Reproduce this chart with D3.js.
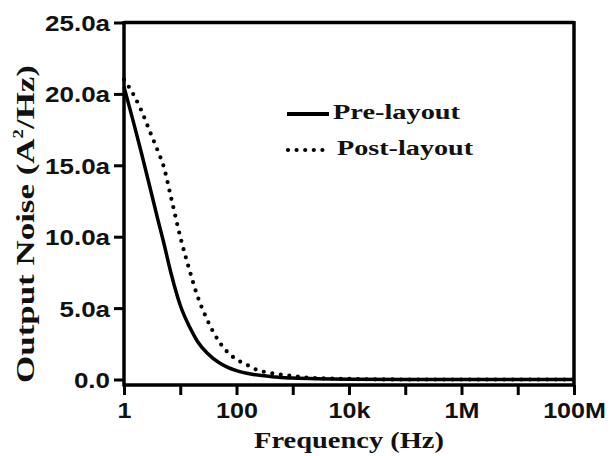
<!DOCTYPE html>
<html>
<head>
<meta charset="utf-8">
<script src="https://cdn.jsdelivr.net/npm/d3@7"></script>
<style>
  body { margin: 0; background: #fff; }
  .tick text { font-family: "Liberation Sans", Arial, sans-serif; font-weight: bold; font-size: 22px; fill: #111; }
  .title { font-family: "Liberation Serif", "Times New Roman", serif; font-weight: bold; fill: #111; }
</style>
</head>
<body>
<div id="chart"></div>
<script>
// Data (noise in aA^2/Hz)
const freqPre = [1, 1.5, 2, 3, 4, 5, 7, 10, 15, 20, 30, 50, 70, 100, 200, 500, 1000, 1e4, 1e5, 1e6, 1e7, 1e8];
const noisePre = [20.5, 17.9, 16.0, 13.2, 11.2, 9.7, 7.3, 5.2, 3.6, 2.7, 1.85, 1.15, 0.85, 0.62, 0.35, 0.18, 0.1, 0.02, 0, 0, 0, 0];
const freqPost = [1, 1.5, 2, 3, 4, 5, 7, 10, 15, 20, 30, 50, 70, 100, 150, 200, 300, 500, 1000, 2000, 1e4, 1e5, 1e6, 1e7, 1e8];
const noisePost = [21.0, 19.9, 18.9, 17.2, 16.0, 15.0, 12.6, 10.0, 7.5, 5.9, 4.2, 2.6, 1.9, 1.4, 1.05, 0.78, 0.55, 0.4, 0.25, 0.12, 0.04, 0, 0, 0, 0];
const seriesNames = ["Pre-layout", "Post-layout"];

const xTicks = [1, 10, 100, 1e3, 1e4, 1e5, 1e6, 1e7, 1e8];
const xTickLabels = ["1", "", "100", "", "10k", "", "1M", "", "100M"];
const yTicks = [0, 5, 10, 15, 20, 25];
const yTickLabels = ["0.0", "5.0a", "10.0a", "15.0a", "20.0a", "25.0a"];

// Dimensions
const W = 611, H = 456;
const plotLeft = 124, plotRight = 574, plotTop = 22.5, zeroY = 379.5, axisY = 385;

const svg = d3.select("#chart").append("svg")
    .attr("width", W)
    .attr("height", H);

const x = d3.scaleLog().domain([1, 1e8]).range([plotLeft, plotRight]);
const y = d3.scaleLinear().domain([0, 25]).range([zeroY, plotTop]);

// X axis
const gx = svg.append("g")
    .attr("transform", `translate(0,${axisY})`)
    .call(d3.axisBottom(x).tickValues(xTicks).tickFormat((d, i) => xTickLabels[i]).tickSize(10).tickSizeOuter(0));
gx.select(".domain").remove();
gx.selectAll(".tick line").attr("stroke", "#000").attr("stroke-width", 3);
gx.selectAll(".tick text")
    .attr("y", 0).attr("dy", 0)
    .attr("transform", "translate(0,33) scale(1.14,1)");

// Y axis
const gy = svg.append("g")
    .attr("transform", `translate(${plotLeft},0)`)
    .call(d3.axisLeft(y).tickValues(yTicks).tickFormat((d, i) => yTickLabels[i]).tickSize(10).tickSizeOuter(0));
gy.select(".domain").remove();
gy.selectAll(".tick line").attr("stroke", "#000").attr("stroke-width", 3);
gy.selectAll(".tick text")
    .attr("x", 0)
    .attr("dy", "0.36em")
    .attr("transform", "translate(-14,0) scale(1.18,1)");

// Frame
const frame = svg.append("g").attr("stroke", "#000").attr("stroke-width", 3.5).attr("fill", "none");
frame.append("line").attr("x1", plotLeft).attr("x2", plotLeft).attr("y1", plotTop - 1.5).attr("y2", axisY + 1.5);
frame.append("line").attr("x1", plotLeft).attr("x2", plotRight).attr("y1", axisY).attr("y2", axisY);
frame.append("line").attr("x1", plotLeft).attr("x2", plotRight).attr("y1", plotTop).attr("y2", plotTop);
frame.append("line").attr("x1", plotRight).attr("x2", plotRight).attr("y1", plotTop - 1.5).attr("y2", axisY + 1.5);

// Curves
const line = d3.line()
    .x(d => x(d.f))
    .y(d => y(d.v))
    .curve(d3.curveMonotoneX);

const pre = freqPre.map((f, i) => ({ f: f, v: noisePre[i] }));
const post = freqPost.map((f, i) => ({ f: f, v: noisePost[i] }));

svg.append("path")
    .datum(pre)
    .attr("d", line)
    .attr("fill", "none")
    .attr("stroke", "#000")
    .attr("stroke-width", 3.5);

svg.append("path")
    .datum(post)
    .attr("d", line)
    .attr("fill", "none")
    .attr("stroke", "#000")
    .attr("stroke-width", 4.2)
    .attr("stroke-linecap", "round")
    .attr("stroke-dasharray", "0 8.6");

// Stretch a text along its length to a measured width
function fit(sel, target, pre) {
    const w = sel.node().getBBox().width;
    sel.attr("transform", `${pre} scale(${target / w},1)`);
}

// Legend
svg.append("line")
    .attr("x1", 287).attr("x2", 329).attr("y1", 114).attr("y2", 114)
    .attr("stroke", "#000").attr("stroke-width", 4);
svg.append("line")
    .attr("x1", 288).attr("x2", 323).attr("y1", 150).attr("y2", 150)
    .attr("stroke", "#000").attr("stroke-width", 4.2)
    .attr("stroke-linecap", "round").attr("stroke-dasharray", "0 8.6");

const lg1 = svg.append("text").attr("class", "title").style("font-size", "22px").text(seriesNames[0]);
fit(lg1, 128, "translate(333,119)");
const lg2 = svg.append("text").attr("class", "title").style("font-size", "22px").text(seriesNames[1]);
fit(lg2, 137, "translate(337,155)");

// Axis titles
const xt = svg.append("text").attr("class", "title")
    .attr("text-anchor", "middle")
    .style("font-size", "24px")
    .text("Frequency (Hz)");
fit(xt, 190, "translate(349,448)");

const yt = svg.append("text").attr("class", "title")
    .attr("text-anchor", "middle")
    .style("font-size", "26px");
yt.append("tspan").text("Output Noise (A");
yt.append("tspan").attr("dy", -11).style("font-size", "14px").text("2");
yt.append("tspan").attr("dy", 11).text("/Hz)");
fit(yt, 318, "translate(34,224) rotate(-90)");
</script>
</body>
</html>
